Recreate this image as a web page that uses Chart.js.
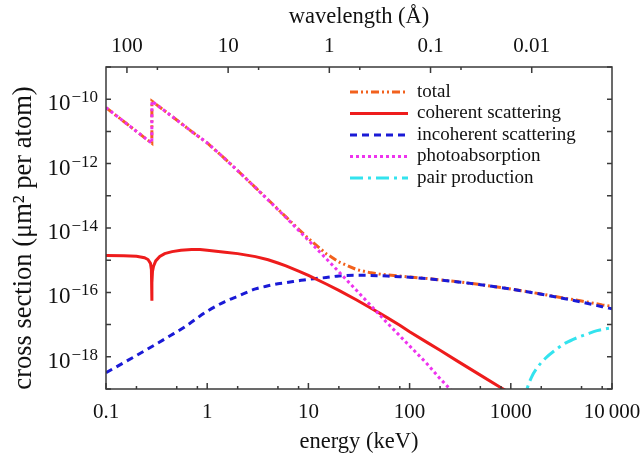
<!DOCTYPE html>
<html><head><meta charset="utf-8">
<script src="https://cdn.jsdelivr.net/npm/chart.js@4"></script>
<style>html,body{margin:0;padding:0;background:#fff}</style>
</head><body>
<canvas id="c" width="643" height="456"></canvas>
<script>
const FONT = '"Liberation Serif", "Times New Roman", serif';

// ---- data (energy in keV, cross section in µm² per atom) ----
const seriesNames = ['total', 'coherent scattering', 'incoherent scattering', 'photoabsorption', 'pair production'];

const totalE = [0.1, 0.15, 0.2, 0.25, 0.2838, 0.2842, 0.5, 0.7, 1, 1.5, 2, 3, 4, 5, 6, 8, 10, 15, 20, 30, 40, 50, 60, 80, 100, 150, 200, 300, 500, 800, 1000, 1500, 2000, 3000, 5000, 8000, 10000];
const totalV = [5.5e-11, 2.03e-11, 1.0e-11, 5.8e-12, 4.3e-12, 8.7e-11, 2.26e-11, 1.0e-11, 4.4e-12, 1.40e-12, 6.06e-13, 1.80e-13, 7.54e-14, 3.83e-14, 2.21e-14, 9.14e-15, 4.74e-15, 1.59e-15, 8.8e-16, 5.1e-16, 4.17e-16, 3.74e-16, 3.5e-16, 3.22e-16, 3.03e-16, 2.69e-16, 2.46e-16, 2.13e-16, 1.75e-16, 1.41e-16, 1.27e-16, 1.04e-16, 8.9e-17, 7.1e-17, 5.4e-17, 4.1e-17, 3.7e-17];

const cohE = [0.1, 0.15, 0.2, 0.24, 0.26, 0.275, 0.281, 0.2838, 0.2845, 0.288, 0.295, 0.31, 0.34, 0.38, 0.45, 0.55, 0.7, 0.85, 1, 1.5, 2, 3, 4, 5, 6, 8, 10, 15, 20, 30, 40, 50, 60, 80, 100, 150, 200, 300, 500, 800, 1000];
const cohV = [1.4e-15, 1.37e-15, 1.32e-15, 1.2e-15, 1.05e-15, 8e-16, 5e-16, 5.5e-17, 2e-16, 4.5e-16, 6.5e-16, 9.5e-16, 1.3e-15, 1.6e-15, 1.85e-15, 2.05e-15, 2.15e-15, 2.15e-15, 2.05e-15, 1.78e-15, 1.6e-15, 1.29e-15, 1.03e-15, 8.2e-16, 6.7e-16, 4.6e-16, 3.4e-16, 1.82e-16, 1.15e-16, 5.8e-17, 3.45e-17, 2.31e-17, 1.65e-17, 9.6e-18, 6.0e-18, 2.75e-18, 1.6e-18, 7.2e-19, 2.7e-19, 1.1e-19, 7.2e-20];

const incohE = [0.1, 0.2, 0.3, 0.43, 0.6, 1, 1.5, 2, 3, 4, 5, 6, 8, 10, 15, 20, 30, 40, 50, 60, 80, 100, 150, 200, 300, 500, 800, 1000, 1500, 2000, 3000, 5000, 8000, 10000];
const incohV = [3.2e-19, 1.1e-18, 2.3e-18, 4.5e-18, 8.5e-18, 2.6e-17, 5.2e-17, 7.6e-17, 1.28e-16, 1.6e-16, 1.85e-16, 2.0e-16, 2.3e-16, 2.55e-16, 2.9e-16, 3.25e-16, 3.4e-16, 3.38e-16, 3.3e-16, 3.22e-16, 3.08e-16, 2.95e-16, 2.66e-16, 2.44e-16, 2.12e-16, 1.74e-16, 1.41e-16, 1.27e-16, 1.03e-16, 8.8e-17, 6.9e-17, 5.0e-17, 3.6e-17, 3.1e-17];

const photoE = [0.1, 0.15, 0.2, 0.25, 0.2838, 0.2842, 0.5, 0.7, 1, 1.5, 2, 3, 4, 5, 6, 8, 10, 15, 20, 30, 40, 50, 60, 80, 100, 150, 200, 300];
const photoV = [5.5e-11, 2.03e-11, 1.0e-11, 5.8e-12, 4.3e-12, 8.7e-11, 2.26e-11, 1.0e-11, 4.4e-12, 1.40e-12, 6.04e-13, 1.79e-13, 7.42e-14, 3.73e-14, 2.12e-14, 8.46e-15, 4.14e-15, 1.12e-15, 4.36e-16, 1.14e-16, 4.36e-17, 2.08e-17, 1.13e-17, 4.48e-18, 2.18e-18, 5.9e-19, 2.1e-19, 5.5e-20];

const pairE = [1300, 1445, 1600, 1815, 2200, 2864, 3500, 4510, 5500, 7110, 8500, 10000];
const pairV = [3e-20, 1.0e-19, 2.3e-19, 4.5e-19, 9e-19, 1.78e-18, 2.7e-18, 3.9e-18, 4.9e-18, 6.5e-18, 7.3e-18, 7.9e-18];

// ---- axes ----
const energyTicks = [0.1, 1, 10, 100, 1000, 10000];
const energyTickLabels = ['0.1', '1', '10', '100', '1000', '10\u2009000'];
const energyMinorMult = [2, 5, 8];
const wavelengthTicks = [100, 10, 1, 0.1, 0.01];
const wavelengthTickLabels = ['100', '10', '1', '0.1', '0.01'];
const wavelengthMinorMult = [5];
const WL_CONST = 16.1; // Å·keV as drawn on the top axis
const yLabelExponents = [-10, -12, -14, -16, -18];
const yDecades = [-19, -18, -17, -16, -15, -14, -13, -12, -11, -10, -9];
const yTitle = 'cross section (μm² per atom)';

const colors = ['#f2611d', '#ee1c1c', '#1a1ad6', '#ee33ee', '#33e3ee'];
const dashes = [[8, 3, 2, 3, 2, 3], [], [7, 5], [3, 3], [13, 5, 3, 5]];
const orders = [10, 2, 3, 1, 4];

function pts(E, V) { return E.map((e, i) => ({ x: e, y: V[i] })); }
const seriesData = [pts(totalE, totalV), pts(cohE, cohV), pts(incohE, incohV), pts(photoE, photoV), pts(pairE, pairV)];

const datasets = seriesNames.map((n, i) => ({
  label: n,
  data: seriesData[i],
  borderColor: colors[i],
  backgroundColor: colors[i],
  borderWidth: 3,
  borderDash: dashes[i],
  pointRadius: 0,
  showLine: true,
  fill: false,
  tension: 0,
  cubicInterpolationMode: (i === 2 || i === 4) ? 'monotone' : 'default',
  order: orders[i]
}));

const decor = {
  id: 'decor',
  afterDraw(chart) {
    const ctx = chart.ctx;
    const a = chart.chartArea;
    const xs = chart.scales.x, x2 = chart.scales.x2, ys = chart.scales.y;
    ctx.save();
    ctx.strokeStyle = '#3a3a3a';
    ctx.lineWidth = 1.5;
    ctx.strokeRect(a.left, a.top, a.right - a.left, a.bottom - a.top);
    ctx.beginPath();
    energyTicks.forEach(v => {
      const px = xs.getPixelForValue(v);
      ctx.moveTo(px, a.bottom); ctx.lineTo(px, a.bottom - 6);
      energyMinorMult.forEach(m => {
        const mv = v * m;
        if (mv < 10000) { const p = xs.getPixelForValue(mv); ctx.moveTo(p, a.bottom); ctx.lineTo(p, a.bottom - 3); }
      });
    });
    wavelengthTicks.forEach(v => {
      const px = x2.getPixelForValue(v);
      ctx.moveTo(px, a.top); ctx.lineTo(px, a.top + 6);
      wavelengthMinorMult.forEach(m => {
        const p = x2.getPixelForValue(v * m);
        if (p > a.left && p < a.right) { ctx.moveTo(p, a.top); ctx.lineTo(p, a.top + 3); }
      });
    });
    yDecades.forEach(e => {
      const py = ys.getPixelForValue(Math.pow(10, e));
      ctx.moveTo(a.left, py); ctx.lineTo(a.left + 5, py);
      ctx.moveTo(a.right, py); ctx.lineTo(a.right - 5, py);
    });
    ctx.stroke();

    // y tick labels with superscript exponents
    ctx.fillStyle = '#111';
    ctx.textBaseline = 'alphabetic';
    ctx.textAlign = 'right';
    yLabelExponents.forEach(e => {
      const py = ys.getPixelForValue(Math.pow(10, e));
      const sup = '\u2212' + Math.abs(e);
      ctx.font = '17px ' + FONT;
      const sw = ctx.measureText(sup).width;
      const right = a.left - 8;
      ctx.fillText(sup, right, py + 3);
      ctx.font = '23px ' + FONT;
      ctx.fillText('10', right - sw - 1, py + 11);
    });

    // y axis title (rotated)
    ctx.save();
    ctx.translate(24.5, (a.top + a.bottom) / 2 + 10);
    ctx.rotate(-Math.PI / 2);
    ctx.font = '26.5px ' + FONT;
    ctx.textAlign = 'center';
    ctx.textBaseline = 'middle';
    ctx.fillText(yTitle, 0, 0);
    ctx.restore();

    // legend
    const lx0 = 350, lx1 = 408, tx = 417;
    const rowY = [92, 113.5, 135, 156.5, 178];
    ctx.font = '19px ' + FONT;
    ctx.textAlign = 'left';
    ctx.textBaseline = 'middle';
    chart.data.datasets.forEach((d, i) => {
      const y = rowY[i];
      ctx.save();
      ctx.strokeStyle = d.borderColor;
      ctx.lineWidth = 3;
      ctx.setLineDash(d.borderDash);
      ctx.beginPath(); ctx.moveTo(lx0, y); ctx.lineTo(lx1, y); ctx.stroke();
      ctx.restore();
      ctx.fillStyle = '#111';
      ctx.fillText(d.label, tx, y);
    });
    ctx.restore();
  }
};

const noSidePad = s => { s.height = 67; s.paddingLeft = 0; s.paddingRight = 0; };

new Chart(document.getElementById('c'), {
  type: 'scatter',
  data: { datasets },
  plugins: [decor],
  options: {
    responsive: false,
    animation: false,
    devicePixelRatio: 1,
    layout: { padding: { left: 0, right: 31, top: 0, bottom: 0 } },
    plugins: { legend: { display: false }, tooltip: { enabled: false } },
    scales: {
      x: {
        type: 'logarithmic', position: 'bottom', min: 0.1, max: 10000,
        afterBuildTicks: s => { s.ticks = energyTicks.map(v => ({ value: v })); },
        afterFit: noSidePad,
        grid: { display: false, drawTicks: false },
        border: { display: false },
        ticks: {
          padding: 11, maxRotation: 0, autoSkip: false,
          color: '#111', font: { family: FONT, size: 21 },
          callback: (v, i) => energyTickLabels[i]
        },
        title: { display: true, text: 'energy (keV)', color: '#111', font: { family: FONT, size: 22.5 }, padding: { top: 0, bottom: 0 } }
      },
      x2: {
        type: 'logarithmic', position: 'top', reverse: true,
        min: WL_CONST / 10000, max: WL_CONST / 0.1,
        afterBuildTicks: s => { s.ticks = wavelengthTicks.map(v => ({ value: v })); },
        afterFit: noSidePad,
        grid: { display: false, drawTicks: false },
        border: { display: false },
        ticks: {
          padding: 8, maxRotation: 0, autoSkip: false,
          color: '#111', font: { family: FONT, size: 21 },
          callback: (v, i) => wavelengthTickLabels[i]
        },
        title: { display: true, text: 'wavelength (Å)', color: '#111', font: { family: FONT, size: 22.5 }, padding: { top: 4, bottom: 0 } }
      },
      y: {
        type: 'logarithmic', position: 'left', min: 1e-19, max: 1e-9,
        afterBuildTicks: s => { s.ticks = yDecades.map(e => ({ value: Math.pow(10, e) })); },
        afterFit: s => { s.width = 106; },
        grid: { display: false, drawTicks: false },
        border: { display: false },
        ticks: { display: false },
        title: { display: false }
      }
    }
  }
});
</script>
</body></html>
